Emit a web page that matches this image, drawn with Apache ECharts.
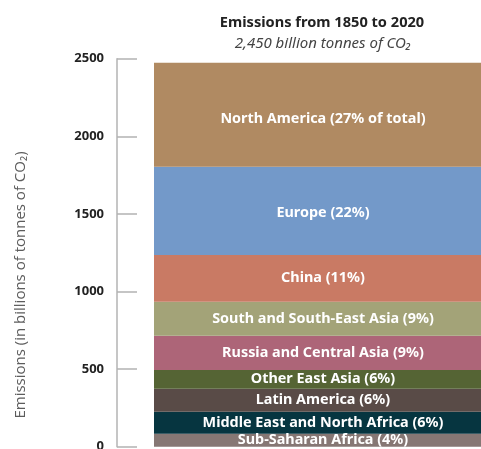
<!DOCTYPE html>
<html>
<head>
<meta charset="utf-8">
<script src="https://cdn.jsdelivr.net/npm/echarts@6/dist/echarts.min.js"></script>
<style>
  html, body { margin: 0; padding: 0; background: #fff; }
  #chart { width: 481px; height: 449px; }
</style>
</head>
<body>
<div id="chart"></div>
<script>
// Cumulative CO2 emissions 1850-2020 by region (billion tonnes), bottom to top
const regions = [
  'Sub-Saharan Africa (4%)',
  'Middle East and North Africa (6%)',
  'Latin America (6%)',
  'Other East Asia (6%)',
  'Russia and Central Asia (9%)',
  'South and South-East Asia (9%)',
  'China (11%)',
  'Europe (22%)',
  'North America (27% of total)'
];
const emissions = [84, 141, 149, 120, 221, 219, 301, 569, 670];
const colors = ['#867774', '#063540', '#594b47', '#556434', '#ad6578', '#a3a378', '#c97a64', '#7399c9', '#b08a62'];
const yTicks = { min: 0, max: 2500, interval: 500 };

const chart = echarts.init(document.getElementById('chart'), null, { renderer: 'canvas' });

// the two tall top blocks carry their labels a little below centre
function labelShift(i) {
  if (i === regions.length - 1) return [0, 4];
  if (i === regions.length - 2) return [0, 2];
  return [0, 0];
}

const series = regions.map((name, i) => ({
  name: name,
  type: 'bar',
  stack: 'total',
  barWidth: '100%',
  data: [emissions[i]],
  itemStyle: { color: colors[i] },
  label: {
    show: true,
    position: 'inside',
    offset: labelShift(i),
    formatter: name,
    color: '#ffffff',
    fontFamily: 'Noto Sans',
    fontWeight: 'bold',
    fontSize: 14.4
  }
}));

chart.setOption({
  animation: false,
  grid: { left: 154, right: -11, top: 58.7, bottom: 2.3, outerBoundsMode: 'none', containLabel: false },
  xAxis: {
    type: 'category',
    data: ['1850-2020'],
    show: false
  },
  yAxis: {
    type: 'value',
    min: yTicks.min,
    max: yTicks.max,
    interval: yTicks.interval,
    offset: 37,
    axisLine: { show: true, lineStyle: { color: '#b3b3b3', width: 1.5 } },
    axisTick: { show: true, inside: true, length: 20, lineStyle: { color: '#b3b3b3', width: 1.5 } },
    axisLabel: {
      margin: 13,
      color: '#222',
      fontFamily: 'Noto Sans',
      fontWeight: 'bold',
      fontSize: 13,
      formatter: (v) => String(v)
    },
    splitLine: { show: false }
  },
  graphic: [
    {
      type: 'text',
      x: 322, y: 23,
      style: {
        text: 'Emissions from 1850 to 2020',
        align: 'center', verticalAlign: 'middle',
        fill: '#222',
        font: 'bold 14.6px "Noto Sans"'
      }
    },
    {
      type: 'text',
      x: 323, y: 44,
      style: {
        text: '2,450 billion tonnes of CO₂',
        align: 'center', verticalAlign: 'middle',
        fill: '#444',
        font: 'italic 15px "Noto Sans"'
      }
    },
    {
      type: 'text',
      rotation: Math.PI / 2,
      x: 21, y: 285,
      style: {
        text: 'Emissions (in billions of tonnes of CO₂)',
        align: 'center', verticalAlign: 'middle',
        fill: '#5c5c5c',
        font: '15px "Open Sans"'
      }
    }
  ],
  series: series
});
</script>
</body>
</html>
